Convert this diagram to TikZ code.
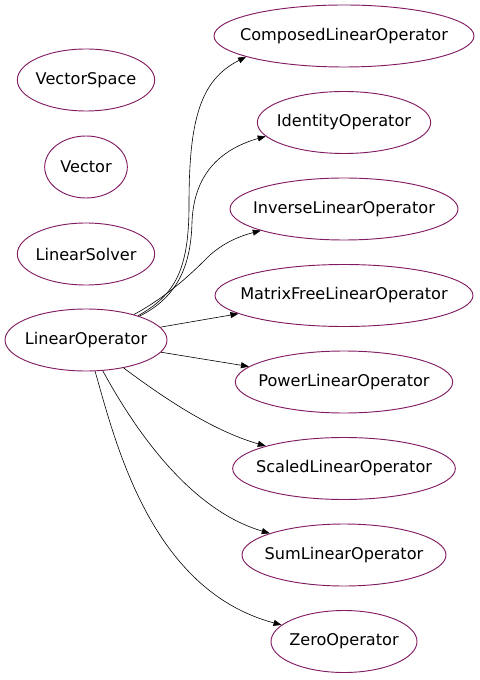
\documentclass[tikz,border=0pt]{standalone}
\usepackage{fontspec}
\setmainfont{DejaVu Sans}
\usetikzlibrary{shapes.geometric,arrows.meta}
\definecolor{NodeLine}{RGB}{130,28,98}
\tikzset{
  cls/.style={ellipse,draw=NodeLine,line width=0.7pt,inner sep=0pt,
    minimum height=46.5pt,font=\fontsize{12.1}{14}\selectfont,
    execute at begin node=\hbox to 0pt\bgroup\hss,
    execute at end node=\hss\egroup},
  inh/.style={draw=black,line width=0.45pt,-{Triangle[length=6pt,width=4.5pt]}},
}
\begin{document}
\begin{tikzpicture}[x=0.75pt,y=-0.75pt]
  \useasboundingbox (0,0) rectangle (479,680);
  % left column
  \node[cls,minimum width=103pt] (vs) at (86,80) {VectorSpace};
  \node[cls,minimum width=62pt] (vec) at (86,167) {Vector};
  \node[cls,minimum width=103pt] (ls) at (86,254) {LinearSolver};
  \node[cls,minimum width=121.5pt] (lo) at (86,340) {LinearOperator};
  % right column
  \node[cls,minimum width=195pt] (comp) at (344,36) {ComposedLinearOperator};
  \node[cls,minimum width=130pt] (ident) at (344,122.5) {IdentityOperator};
  \node[cls,minimum width=171pt] (inv) at (344,209) {InverseLinearOperator};
  \node[cls,minimum width=193.5pt] (mfree) at (344,295.5) {MatrixFreeLinearOperator};
  \node[cls,minimum width=163pt] (pow) at (344,382) {PowerLinearOperator};
  \node[cls,minimum width=167pt] (scal) at (344,468.5) {ScaledLinearOperator};
  \node[cls,minimum width=153pt] (sum) at (344,555) {SumLinearOperator};
  \node[cls,minimum width=109.5pt] (zero) at (344,641.5) {ZeroOperator};
  % inheritance edges
  \draw[inh] (lo.25) .. controls (175,295) and (189,270) .. (189,205)
    .. controls (189,120) and (200,80) .. (comp.192);
  \draw[inh] (lo.24) .. controls (178,297) and (191,265) .. (192,222)
    .. controls (194,170) and (225,148) .. (ident.190);
  \draw[inh] (lo.28) .. controls (170,295) and (195,270) .. (210,255)
    .. controls (225,242) and (240,236) .. (inv);
  \draw[inh] (lo) -- (mfree);
  \draw[inh] (lo) -- (pow);
  \draw[inh] (lo) .. controls (160,395) and (210,430) .. (scal);
  \draw[inh] (lo) .. controls (135,430) and (190,510) .. (sum);
  \draw[inh] (lo) .. controls (115,440) and (150,590) .. (zero);
\end{tikzpicture}
\end{document}
